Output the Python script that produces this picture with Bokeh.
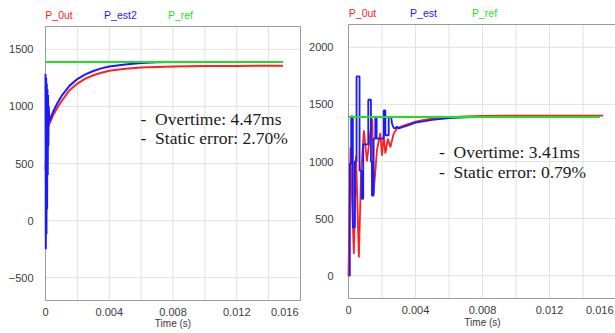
from bokeh.plotting import figure
from bokeh.layouts import row
from bokeh.models import FixedTicker, Label, Range1d
from bokeh.core.properties import value
from bokeh.embed import file_html
from bokeh.resources import INLINE

# ---------------- data ----------------
# Left panel
series_names_left = ["P_0ut", "P_est2", "P_ref"]
t_est2_left = [0, 0.00002, 0.00004, 0.00006, 0.00008, 0.0001, 0.00012, 0.00014, 0.00016,
               0.00018, 0.0002, 0.00025, 0.0005, 0.00075, 0.001, 0.0015, 0.002, 0.0025,
               0.003, 0.0035, 0.004, 0.005, 0.006, 0.007, 0.008, 0.01, 0.0149]
v_est2_left = [1285, -250, 1250, -120, 1200, 100, 1150, 400, 1100, 650, 1000, 870, 960,
               1030, 1090, 1180, 1240, 1280, 1310, 1333, 1350, 1368, 1380, 1386, 1389,
               1390, 1390]
t_out_left = [0, 0.00008, 0.00015, 0.00025, 0.0005, 0.00075, 0.001, 0.0015, 0.002, 0.0025,
              0.003, 0.0035, 0.004, 0.005, 0.006, 0.007, 0.008, 0.01, 0.012, 0.0149]
v_out_left = [450, 700, 820, 850, 930, 990, 1045, 1140, 1200, 1243, 1273, 1295, 1312,
              1330, 1340, 1345, 1349, 1353, 1355, 1356]
t_ref_left = [0, 0.0149]
v_ref_left = [1390, 1390]
notes_left = ["-\u00a0 Overtime: 4.47ms", "-\u00a0 Static error: 2.70%"]
y_lim_left = (-700, 1700)

# Right panel
series_names_right = ["P_0ut", "P_est", "P_ref"]
t_est_right = [0, 0.00008, 0.00008, 0.00016, 0.00016, 0.00026, 0.00026, 0.00038, 0.00038,
               0.00048, 0.00048, 0.00066, 0.00066, 0.00078, 0.00078, 0.00088, 0.00088,
               0.00118, 0.00118, 0.00134, 0.00134, 0.0014, 0.0014, 0.0015, 0.0015, 0.0016,
               0.0016, 0.00168, 0.00168, 0.0021, 0.0021, 0.0022, 0.0022, 0.0024, 0.0024,
               0.00255, 0.0026, 0.0027, 0.0028, 0.0029, 0.003, 0.0035, 0.004, 0.005, 0.006,
               0.007, 0.008, 0.015]
v_est_right = [0, 0, 980, 980, 1395, 1395, 424, 424, 1000, 1000, 1745, 1745, 920, 920, 673,
               673, 1150, 1150, 1541, 1541, 1000, 1000, 702, 702, 1200, 1200, 1390, 1390,
               1200, 1200, 1447, 1447, 1230, 1230, 1390, 1390, 1330, 1295, 1290, 1305, 1290,
               1315, 1340, 1365, 1380, 1387, 1390, 1390]
t_out_right = [0, 0.00005, 0.00012, 0.0002, 0.00032, 0.00045, 0.00062, 0.00075, 0.00092,
               0.0011, 0.0013, 0.00142, 0.0015, 0.0017, 0.0019, 0.002, 0.0021, 0.0022,
               0.00235, 0.0025, 0.0027, 0.0029, 0.0032, 0.0036, 0.004, 0.0045, 0.005, 0.006,
               0.007, 0.008, 0.01, 0.0152]
v_out_right = [0, 500, 1125, 700, 190, 1050, 160, 900, 1272, 1000, 1250, 1374, 720, 1100,
               1250, 1050, 1230, 1070, 1200, 1125, 1245, 1290, 1310, 1330, 1350, 1365, 1375,
               1388, 1395, 1400, 1402, 1402]
t_ref_right = [0, 0.0150]
v_ref_right = [1390, 1390]
notes_right = ["-\u00a0 Overtime: 3.41ms", "-\u00a0 Static error: 0.79%"]
y_lim_right = (-200, 2200)

x_ticks = [0, 0.004, 0.008, 0.012, 0.016]
x_tick_labels = ["0", "0.004", "0.008", "0.012", "0.016"]
x_grid = [0, 0.002, 0.004, 0.006, 0.008, 0.010, 0.012, 0.014, 0.016]
x_title = "Time (s)"
y_ticks_left = [-500, 0, 500, 1000, 1500]
y_ticks_right = [0, 500, 1000, 1500, 2000]

# ---------------- styles ----------------
RED = "#ff2020"
BLUE = "#1a1aff"
GREEN = "#1ee01e"
GRID = "#e2e2e2"
FRAME = "#9a9a9a"
TICK = "#3a3a3a"
H = 333
PX_PER_UNIT_Y = 274 / 2400.0


def base_figure(width, x_start, x_end, y_lim, top_px, bottom_px, yticks, standoff):
    # frame covers the full canvas height; the visible box is drawn by hand
    y0 = y_lim[0] - (H - bottom_px) / PX_PER_UNIT_Y
    y1 = y_lim[1] + top_px / PX_PER_UNIT_Y
    p = figure(width=width, height=H, x_range=Range1d(x_start, x_end), y_range=Range1d(y0, y1),
               min_border_left=40, min_border_right=0, min_border_top=0, min_border_bottom=0,
               output_backend="svg", toolbar_location=None)
    p.xaxis.visible = False
    p.xgrid.visible = False
    p.ygrid.visible = False
    p.outline_line_color = None
    ax = p.yaxis[0]
    ax.ticker = FixedTicker(ticks=yticks)
    ax.axis_line_color = None
    ax.major_tick_line_color = None
    ax.minor_tick_line_color = None
    ax.major_tick_out = 0
    ax.major_tick_in = 0
    ax.major_label_standoff = standoff
    ax.major_label_text_font = "Liberation Sans"
    ax.major_label_text_font_size = "11px"
    ax.major_label_text_color = TICK
    return p


def grids(p, yticks, y_lim, x_right):
    p.segment(x0=x_grid, y0=[y_lim[0]] * len(x_grid), x1=x_grid, y1=[y_lim[1]] * len(x_grid),
              line_color=GRID, line_width=1)
    p.segment(x0=[0] * len(yticks), y0=yticks, x1=[x_right] * len(yticks), y1=yticks,
              line_color=GRID, line_width=1)


def x_labels(p, y_lab, y_title, last_right_x):
    p.text(x=x_ticks[:-1], y=[y_lab] * (len(x_ticks) - 1), text=x_tick_labels[:-1],
           text_font=value("Liberation Sans"), text_font_size="11px", text_color=TICK,
           text_align="center", text_baseline="middle")
    p.text(x=[last_right_x], y=[y_lab], text=[x_tick_labels[-1]],
           text_font=value("Liberation Sans"), text_font_size="11px", text_color=TICK,
           text_align="right", text_baseline="middle")
    p.text(x=[x_ticks[2]], y=[y_title], text=[x_title],
           text_font=value("Liberation Sans"), text_font_size="10px", text_color=TICK,
           text_align="center", text_baseline="middle")


def legend_and_notes(p, names, xs, y_leg, note_lines, note_x, note_y):
    for name, col, x in zip(names, [RED, BLUE, GREEN], xs):
        p.add_layout(Label(x=x, y=y_leg, text=name, text_color=col, text_font="Liberation Sans",
                           text_font_size="10.5px", text_align="center",
                           text_baseline="middle"))
    for i, txt in enumerate(note_lines):
        p.add_layout(Label(x=note_x, y=note_y - 175 * i, text=txt, text_color="#1a1a1a",
                           text_font="Liberation Serif", text_font_size="17.5px",
                           text_align="left", text_baseline="middle"))


# ---------------- left panel ----------------
sx_left = 255 / 0.016          # px per second
p1 = base_figure(305, -5 / sx_left, 260 / sx_left, y_lim_left, 26, 300, y_ticks_left, 7)
grids(p1, y_ticks_left, y_lim_left, 0.016)
p1.quad(left=[0], right=[0.016], bottom=[y_lim_left[0]], top=[y_lim_left[1]],
        fill_color=None, line_color=FRAME, line_width=1)
p1.line(t_out_left, v_out_left, line_color=RED, line_width=2)
p1.line(t_est2_left, v_est2_left, line_color=BLUE, line_width=2)
p1.line(t_ref_left, v_ref_left, line_color=GREEN, line_width=2)
x_labels(p1, -805, -901, 0.016 - 2 / sx_left)
legend_and_notes(p1, series_names_left, [0.00085, 0.0047, 0.00847], 1805,
                 notes_left, 0.00596, 894)

# ---------------- right panel ----------------
sx_right = 16750.0
x_end_right = 267 / sx_right
p2 = base_figure(310, -3 / sx_right, x_end_right, y_lim_right, 24, 298, y_ticks_right, 12)
grids(p2, y_ticks_right, y_lim_right, x_end_right)
p2.segment(x0=[0, 0, 0], y0=[y_lim_right[0], y_lim_right[0], y_lim_right[1]],
           x1=[x_end_right, 0, x_end_right],
           y1=[y_lim_right[0], y_lim_right[1], y_lim_right[1]],
           line_color=FRAME, line_width=1)
p2.line(t_out_right, v_out_right, line_color=RED, line_width=1.8)
p2.line(t_est_right, v_est_right, line_color=BLUE, line_width=1.8)
p2.line(t_ref_right, v_ref_right, line_color=GREEN, line_width=2)
x_labels(p2, -305, -410, x_end_right - 2 / sx_right)
legend_and_notes(p2, series_names_right, [0.00084, 0.00448, 0.00812], 2299,
                 notes_right, 0.0054, 1079)

layout = row(p1, p2)
open("out.html", "w").write(file_html(layout, INLINE))
